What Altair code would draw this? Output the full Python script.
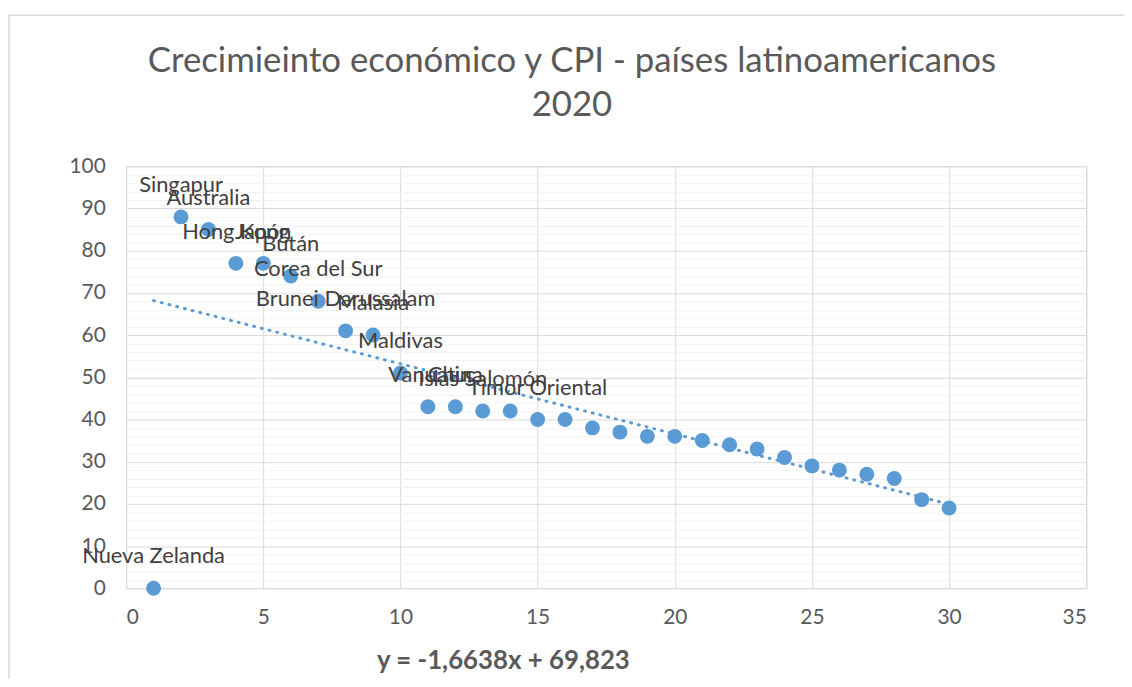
import altair as alt
import pandas as pd

# ---- data ----
RANK = list(range(1, 31))
CPI = [0, 88, 85, 77, 77, 74, 68, 61, 60, 51,
       43, 43, 42, 42, 40, 40, 38, 37, 36, 36,
       35, 34, 33, 31, 29, 28, 27, 26, 21, 19]
PAIS = ["Nueva Zelanda", "Singapur", "Australia", "Hong Kong", "Japón", "Bután",
        "Corea del Sur", "Brunei Darussalam", "Malasia", "Maldivas", "Vanuatu",
        "China", "Islas Salomón", "", "Timor Oriental"] + [""] * 15
X_TICKS = [0, 5, 10, 15, 20, 25, 30, 35]
Y_GRID = list(range(0, 101, 2))
TITLE = ["Crecimieinto económico y CPI - países latinoamericanos", "2020"]
EQUATION = "y = -1,6638x + 69,823"

df = pd.DataFrame({"rank": RANK, "cpi": CPI, "pais": PAIS})

BLUE = "#5B9BD5"
TXT = "#595959"
FONT = "Lato"

xs = alt.Scale(domain=[0, 35], nice=False, zero=False)
ys = alt.Scale(domain=[0, 100], nice=False)

xaxis = alt.Axis(values=X_TICKS, grid=True, gridColor="#D9D9D9", domain=False,
                 ticks=False, labelFont=FONT, labelFontSize=21, labelColor=TXT,
                 labelPadding=19, labelOverlap=False, title=None)
yaxis = alt.Axis(values=Y_GRID,
                 labelExpr="datum.value % 10 === 0 ? datum.label : ''",
                 labelOverlap=False,
                 gridColor={"condition": {"test": "datum.value % 10 === 0", "value": "#D9D9D9"},
                            "value": "#F2F2F2"},
                 domain=False, ticks=False, labelFont=FONT, labelFontSize=21,
                 labelColor=TXT, labelPadding=21, title=None)

X = alt.X("rank:Q", scale=xs, axis=xaxis)
Y = alt.Y("cpi:Q", scale=ys, axis=yaxis)

W, H = 967, 425

border = alt.Chart(alt.Data(values=[{"a": 1}])).mark_rect(
    fillOpacity=0, stroke="#D9D9D9", strokeWidth=1.5
).encode(x=alt.value(-118), x2=alt.value(1010), y=alt.value(-152), y2=alt.value(540))

title = alt.Chart(alt.Data(values=[{"a": 1}])).mark_text(
    font=FONT, fontSize=35, color=TXT, align="center", baseline="alphabetic",
    lineHeight=44
).encode(x=alt.value(449), y=alt.value(-95), text=alt.value(TITLE))

points = alt.Chart(df).mark_circle(size=225, color=BLUE, opacity=1).encode(x=X, y=Y)

trend = alt.Chart(df).transform_regression(
    "rank", "cpi", extent=[1, 30]
).mark_line(color=BLUE, strokeWidth=3, strokeDash=[1, 7], strokeCap="round").encode(x=X, y=Y)

labels = alt.Chart(df).transform_filter("datum.pais != ''").mark_text(
    font=FONT, fontSize=22, color="#404040", dy=-32, baseline="middle", align="center"
).encode(x=X, y=Y, text="pais:N")

equation = alt.Chart(alt.Data(values=[{"t": EQUATION}])).mark_text(
    font=FONT, fontSize=26, fontWeight="bold", color=TXT, align="center",
    baseline="alphabetic"
).encode(x=alt.value(380), y=alt.value(506), text="t:N")

chart = alt.layer(border, title, points, trend, labels, equation).properties(
    width=W, height=H,
    autosize=alt.AutoSizeParams(type="none"),
    padding={"left": 119, "top": 157, "right": 38, "bottom": 89},
).configure_view(stroke="#D9D9D9", strokeWidth=1.5).configure_axis(
    labelOverlap=False
).configure(background="white")

chart.save("out.html", embed_options={"renderer": "svg", "actions": False})
